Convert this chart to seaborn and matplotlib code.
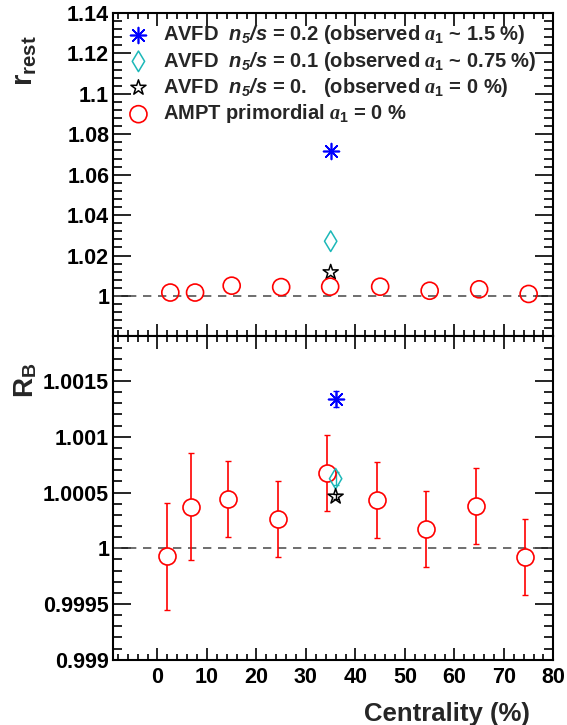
import numpy as np
import seaborn as sns
import matplotlib
matplotlib.use('Agg')
from matplotlib import pyplot as plt
from matplotlib.ticker import MultipleLocator, FuncFormatter

# top panel: r_rest vs centrality
ampt_x_top = [2.6, 7.6, 15.0, 25.0, 34.9, 45.0, 55.0, 65.0, 75.0]
ampt_r_rest = [1.0017, 1.0017, 1.0051, 1.0044, 1.0046, 1.0046, 1.0026, 1.0033, 1.0010]
avfd_x_top = 35.0
avfd_r_rest = [1.0716, 1.0271, 1.0117]  # n5/s = 0.2, 0.1, 0.

# bottom panel: R_B vs centrality
ampt_x_bot = [1.9, 6.8, 14.3, 24.4, 34.3, 44.3, 54.2, 64.3, 74.3]
ampt_rb = [0.99993, 1.000373, 1.000442, 1.000263, 1.000673, 1.000433, 1.000173, 1.000377, 0.999922]
ampt_rb_err = [0.00048, 0.00048, 0.00034, 0.00034, 0.00034, 0.00034, 0.00034, 0.00034, 0.00034]
avfd_x_bot = 36.0
avfd_rb = [1.001336, 1.000624, 1.000463]
avfd_rb_err = [0.00007, 0.00006, 0.00002]

labels = [
    r'AVFD  $\mathsf{n_5/s}$ = 0.2 (observed $\mathit{a}_{\mathrm{1}}$ ~ 1.5 %)',
    r'AVFD  $\mathsf{n_5/s}$ = 0.1 (observed $\mathit{a}_{\mathrm{1}}$ ~ 0.75 %)',
    r'AVFD  $\mathsf{n_5/s}$ = 0.   (observed $\mathit{a}_{\mathrm{1}}$ = 0 %)',
    r'AMPT primordial $\mathit{a}_{\mathrm{1}}$ = 0 %',
]
avfd_colors = ['#0000ff', '#1cb8b8', '#000000']
avfd_markers = [(8, 2, 0), 'd', '*']
avfd_sizes = [130, 110, 130]

sns.set_style('ticks')
plt.rcParams['font.family'] = ['Liberation Sans', 'DejaVu Sans']
plt.rcParams['font.weight'] = 'bold'
plt.rcParams['mathtext.fontset'] = 'custom'
plt.rcParams['mathtext.rm'] = 'Liberation Sans:bold'
plt.rcParams['mathtext.sf'] = 'Liberation Sans:bold:italic'
plt.rcParams['mathtext.it'] = 'Liberation Serif:italic'
plt.rcParams['mathtext.bf'] = 'Liberation Sans:bold'

fig, (ax1, ax2) = plt.subplots(2, 1, figsize=(5.67, 7.25), dpi=100, sharex=True)
fig.subplots_adjust(left=0.2, right=0.976, top=0.982, bottom=0.09, hspace=0)

# reference line at 1
for ax in (ax1, ax2):
    ax.axhline(1.0, color='#555555', lw=1.2, ls=(0, (5, 4)), zorder=1)

# top panel markers
for y, c, m, s, lab in zip(avfd_r_rest, avfd_colors, avfd_markers, avfd_sizes, labels[:3]):
    if m == (8, 2, 0):
        sns.scatterplot(x=[avfd_x_top], y=[y], marker=m, s=s, color=c, linewidth=1.2,
                        label=lab, ax=ax1, zorder=3)
    else:
        sns.scatterplot(x=[avfd_x_top], y=[y], marker=m, s=s, facecolor='none',
                        edgecolor=c, linewidth=1.1, label=lab, ax=ax1, zorder=3)
sns.scatterplot(x=ampt_x_top, y=ampt_r_rest, marker='o', s=150, facecolor='none',
                edgecolor='red', linewidth=1.2, label=labels[3], ax=ax1, zorder=3)

# bottom panel: error bars + markers
ax2.errorbar(ampt_x_bot, ampt_rb, yerr=ampt_rb_err, fmt='none', ecolor='red',
             elinewidth=1.2, capsize=2, capthick=1.0, zorder=2)
sns.scatterplot(x=ampt_x_bot, y=ampt_rb, marker='o', s=150, facecolor='white',
                edgecolor='red', linewidth=1.2, ax=ax2, zorder=3, legend=False)
for y, e, c, m, s in zip(avfd_rb, avfd_rb_err, avfd_colors, avfd_markers, avfd_sizes):
    ax2.errorbar([avfd_x_bot], [y], yerr=[e], fmt='none', ecolor=c, elinewidth=1.0,
                 capsize=2, zorder=2)
    if m == (8, 2, 0):
        sns.scatterplot(x=[avfd_x_bot], y=[y], marker=m, s=s, color=c, linewidth=1.2,
                        ax=ax2, zorder=4, legend=False)
    else:
        sns.scatterplot(x=[avfd_x_bot], y=[y], marker=m, s=s, facecolor='none',
                        edgecolor=c, linewidth=1.1, ax=ax2, zorder=4, legend=False)

fmt = FuncFormatter(lambda v, p: '%g' % round(v, 6))

ax1.set_xlim(-8.9, 80)
ax1.set_ylim(0.98, 1.14)
ax1.set_yticks(np.arange(1.0, 1.141, 0.02))
ax1.yaxis.set_minor_locator(MultipleLocator(0.004))
ax2.set_ylim(0.999, 1.0019)
ax2.set_yticks(np.arange(0.999, 1.00151, 0.0005))
ax2.yaxis.set_minor_locator(MultipleLocator(0.0001))
ax2.set_xticks(np.arange(0, 81, 10))
ax2.xaxis.set_minor_locator(MultipleLocator(2))

for ax in (ax1, ax2):
    ax.yaxis.set_major_formatter(fmt)
    ax.tick_params(which='both', direction='in', top=True, right=True, width=1.2,
                   labelsize=15.5, colors='black')
    ax.tick_params(axis='y', which='major', length=13, pad=3)
    ax.tick_params(axis='y', which='minor', length=6.5)
    ax.tick_params(axis='x', which='major', length=9)
    ax.tick_params(axis='x', which='minor', length=4.5)
    for sp in ax.spines.values():
        sp.set_linewidth(1.5)
        sp.set_color('black')
    for t in ax.get_yticklabels() + ax.get_xticklabels():
        t.set_fontweight('bold')
ax1.tick_params(axis='x', labelbottom=False)
ax2.tick_params(axis='x', pad=5)

ax1.set_xlabel('')
ax1.set_ylabel(r'r$_{\mathrm{rest}}$', fontsize=21, fontweight='bold', loc='top')
ax1.yaxis.set_label_coords(-0.17, 0.93)
ax2.set_ylabel(r'R$_{\mathrm{B}}$', fontsize=20, fontweight='bold', loc='top')
ax2.yaxis.set_label_coords(-0.17, 0.92)
ax2.set_xlabel('Centrality (%)', fontsize=18.5, fontweight='bold', loc='right')
ax2.xaxis.set_label_coords(0.947, -0.13)

ax1.legend(loc='upper left', frameon=False, fontsize=14.5, handletextpad=0.6,
           labelspacing=0.17, borderaxespad=0.2, handlelength=1.2,
           bbox_to_anchor=(0.002, 1.006))

fig.savefig('out.png', dpi=100)
